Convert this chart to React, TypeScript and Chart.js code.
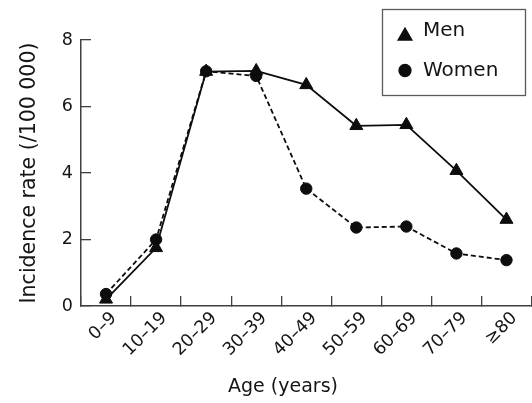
import { useEffect, useRef } from 'react';
import { Chart, registerables } from 'chart.js';
import { drawPoint } from 'chart.js/helpers';

Chart.register(...registerables);

const ageGroups = ['0–9', '10–19', '20–29', '30–39', '40–49', '50–59', '60–69', '70–79', '≥80'];
const menRates = [0.2, 1.75, 7.05, 7.07, 6.65, 5.42, 5.45, 4.07, 2.6];
const womenRates = [0.36, 2.0, 7.06, 6.92, 3.53, 2.36, 2.39, 1.58, 1.38];
const yTickValues = [0, 2, 4, 6, 8];
const seriesNames = ['Men', 'Women'];
const xTitle = 'Age (years)';
const yTitle = 'Incidence rate (/100 000)';

const FONT = "'DejaVu Sans', sans-serif";
const TEXT = '#151515';
const AXIS = '#404040';
const INK = '#0d0d0d';

const overlayPlugin = {
  id: 'overlay',
  afterDraw(chart: any) {
    const ctx = chart.ctx as CanvasRenderingContext2D;
    ctx.save();
    // legend box (inside the plot, top right)
    ctx.strokeStyle = '#5a5a5a';
    ctx.lineWidth = 1.3;
    ctx.strokeRect(382.5, 9.5, 143, 86);
    ctx.font = `20px ${FONT}`;
    ctx.textAlign = 'left';
    ctx.textBaseline = 'middle';
    const rows = [
      { y: 31, markY: 36, r: 8 },
      { y: 71, markY: 70.5, r: 6 },
    ];
    chart.data.datasets.forEach((ds: any, i: number) => {
      const row = rows[i];
      ctx.fillStyle = INK;
      ctx.strokeStyle = INK;
      drawPoint(ctx, { pointStyle: ds.pointStyle, radius: row.r, rotation: 0, borderWidth: 1 } as any, 405, row.markY);
      ctx.fillStyle = TEXT;
      ctx.fillText(ds.label, 423, row.y);
    });
    // x axis title
    ctx.font = `19px ${FONT}`;
    ctx.textAlign = 'center';
    ctx.fillStyle = TEXT;
    ctx.fillText(xTitle, 283, 387);
    ctx.restore();
  },
};

export default function App() {
  const ref = useRef<HTMLCanvasElement>(null);
  useEffect(() => {
    if (!ref.current) return;
    const chart = new Chart(ref.current, {
      type: 'line',
      data: {
        labels: ageGroups,
        datasets: [
          {
            label: seriesNames[0],
            data: menRates,
            borderColor: INK,
            backgroundColor: INK,
            borderWidth: 1.8,
            pointStyle: 'triangle',
            pointRadius: 7.5,
            pointBorderWidth: 1,
            tension: 0,
          },
          {
            label: seriesNames[1],
            data: womenRates,
            borderColor: INK,
            backgroundColor: INK,
            borderWidth: 1.8,
            borderDash: [5, 3],
            pointStyle: 'circle',
            pointRadius: 5.7,
            pointBorderWidth: 1,
            tension: 0,
          },
        ],
      },
      options: {
        animation: false,
        responsive: true,
        maintainAspectRatio: false,
        layout: { padding: { top: 40, right: 3, left: 0, bottom: 0 } },
        plugins: {
          legend: { display: false },
          tooltip: { enabled: false },
        },
        scales: {
          x: {
            type: 'category',
            offset: true,
            afterFit: (s: any) => { s.height = 97; },
            grid: { display: true, drawOnChartArea: false, offset: true, tickLength: -10, color: AXIS, lineWidth: 1.3 },
            border: { display: true, color: AXIS, width: 1.5 },
            ticks: {
              color: TEXT,
              font: { family: FONT, size: 17.5 },
              minRotation: 45,
              maxRotation: 45,
              padding: 12,
              labelOffset: 8,
              autoSkip: false,
            },
          },
          y: {
            min: 0,
            max: 8,
            afterFit: (s: any) => { s.width = 81; },
            afterBuildTicks: (s: any) => { s.ticks = yTickValues.map((v) => ({ value: v })); },
            grid: { display: true, drawOnChartArea: false, tickLength: -10, color: AXIS, lineWidth: 1.3 },
            border: { display: true, color: AXIS, width: 1.5 },
            ticks: {
              color: TEXT,
              font: { family: FONT, size: 17.5 },
              padding: 18,
            },
            title: {
              display: true,
              text: yTitle,
              color: TEXT,
              font: { family: FONT, size: 20.5 },
              padding: { top: 17, bottom: 0 },
            },
          },
        },
      },
      plugins: [overlayPlugin],
    });
    return () => chart.destroy();
  }, []);
  return (
    <div style={{ position: 'absolute', left: 0, top: 0, width: 532, height: 403, overflow: 'hidden' }}>
      <div style={{ width: 540, height: 403 }}>
        <canvas ref={ref} />
      </div>
    </div>
  );
}
